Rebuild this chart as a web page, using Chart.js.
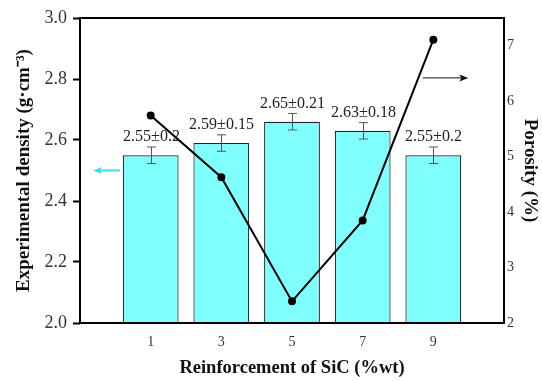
<!DOCTYPE html>
<html>
<head>
<meta charset="utf-8">
<script src="https://cdn.jsdelivr.net/npm/chart.js@4"></script>
<style>
  html, body { margin: 0; padding: 0; background: #fff; }
  #wrap { width: 542px; height: 381px; }
</style>
</head>
<body>
<div id="wrap"><canvas id="densityChart" width="542" height="381"></canvas></div>
<script>
// Data
const sicContent = [1, 3, 5, 7, 9];
const density = [2.55, 2.59, 2.66, 2.63, 2.55];
const densityErr = [0.027, 0.027, 0.027, 0.027, 0.027];
const densityLabels = ['2.55\u00b10.2', '2.59\u00b10.15', '2.65\u00b10.21', '2.63\u00b10.18', '2.55\u00b10.2'];
const porosity = [5.74, 4.63, 2.39, 3.85, 7.11];
const densityTicks = [2.0, 2.2, 2.4, 2.6, 2.8, 3.0];
const porosityTicks = [2, 3, 4, 5, 6, 7];

const SERIF = "'Liberation Serif', 'Times New Roman', serif";

// arrows pointing at each axis, in data units
const arrows = [
  { from: 0.13, to: -0.63, y: 2.5, axis: 'y', color: '#3fdcea', width: 2 },
  { from: 8.7, to: 9.99, y: 6.42, axis: 'y1', color: '#111', width: 1 }
];

const extras = {
  id: 'extras',
  afterDatasetsDraw(chart) {
    const ctx = chart.ctx;
    const xs = chart.scales.x, ys = chart.scales.y;
    ctx.save();

    // error bars + value labels
    ctx.strokeStyle = '#555';
    ctx.lineWidth = 1;
    ctx.fillStyle = '#222';
    ctx.font = '16px ' + SERIF;
    ctx.textAlign = 'center';
    ctx.textBaseline = 'bottom';
    sicContent.forEach((x, i) => {
      const px = Math.round(xs.getPixelForValue(x)) + 0.5;
      const top = ys.getPixelForValue(density[i] + densityErr[i]);
      const bot = ys.getPixelForValue(density[i] - densityErr[i]);
      ctx.beginPath();
      ctx.moveTo(px, top); ctx.lineTo(px, bot);
      ctx.moveTo(px - 4.5, top); ctx.lineTo(px + 4.5, top);
      ctx.moveTo(px - 4.5, bot); ctx.lineTo(px + 4.5, bot);
      ctx.stroke();
      ctx.fillText(densityLabels[i], px, top - 2);
    });

    // arrows
    arrows.forEach(a => {
      const sc = chart.scales[a.axis];
      const y = sc.getPixelForValue(a.y);
      const x0 = xs.getPixelForValue(a.from), x1 = xs.getPixelForValue(a.to);
      const dir = Math.sign(x1 - x0);
      ctx.strokeStyle = a.color;
      ctx.fillStyle = a.color;
      ctx.lineWidth = a.width;
      ctx.beginPath();
      ctx.moveTo(x0, y); ctx.lineTo(x1 - dir * 6, y);
      ctx.stroke();
      ctx.beginPath();
      ctx.moveTo(x1, y);
      ctx.lineTo(x1 - dir * 9, y - 3.5);
      ctx.lineTo(x1 - dir * 7, y);
      ctx.lineTo(x1 - dir * 9, y + 3.5);
      ctx.closePath();
      ctx.fill();
    });

    // plot frame
    const area = chart.chartArea;
    ctx.strokeStyle = '#000';
    ctx.lineWidth = 2;
    ctx.strokeRect(area.left, area.top, area.right - area.left, area.bottom - area.top);
    ctx.restore();
  }
};

new Chart(document.getElementById('densityChart'), {
  type: 'bar',
  data: {
    datasets: [
      {
        type: 'line',
        label: 'Porosity',
        data: sicContent.map((x, i) => ({ x: x, y: porosity[i] })),
        yAxisID: 'y1',
        borderColor: '#000',
        borderWidth: 2,
        backgroundColor: '#000',
        pointRadius: 3,
        pointBackgroundColor: '#000',
        tension: 0,
        order: 0
      },
      {
        type: 'bar',
        label: 'Density',
        data: sicContent.map((x, i) => ({ x: x, y: density[i] })),
        yAxisID: 'y',
        backgroundColor: '#80ffff',
        borderColor: '#222',
        borderWidth: 1.2,
        barPercentage: 0.79,
        categoryPercentage: 1,
        order: 1
      }
    ]
  },
  options: {
    responsive: false,
    animation: false,
    layout: { padding: { top: 18, left: 0, right: 0, bottom: 0 } },
    plugins: {
      legend: { display: false },
      tooltip: { enabled: false }
    },
    scales: {
      x: {
        type: 'linear',
        offset: false,
        min: -1,
        max: 11,
        afterBuildTicks: s => { s.ticks = sicContent.map(v => ({ value: v })); },
        afterFit: s => { s.height = 58; },
        grid: { display: false, drawTicks: false, offset: false },
        border: { display: false },
        ticks: { color: '#333', font: { family: SERIF, size: 14 }, padding: 11 },
        title: {
          display: true,
          text: 'Reinforcement of SiC (%wt)',
          color: '#111',
          font: { family: SERIF, size: 18.5, weight: 'bold' },
          padding: { top: 0, bottom: 2 }
        }
      },
      y: {
        position: 'left',
        min: 2,
        max: 3,
        afterBuildTicks: s => { s.ticks = densityTicks.map(v => ({ value: v })); },
        afterFit: s => { s.width = 80; },
        grid: { drawOnChartArea: false, tickLength: 7, tickColor: '#000', tickWidth: 2 },
        border: { display: false },
        ticks: {
          color: '#333',
          font: { family: SERIF, size: 18 },
          padding: 6,
          callback: v => Number(v).toFixed(1)
        },
        title: {
          display: true,
          text: 'Experimental density (g\u00b7cm\u207b\u00b3)',
          color: '#111',
          font: { family: SERIF, size: 19, weight: 'bold' },
          padding: { top: 13, bottom: 0 }
        }
      },
      y1: {
        position: 'right',
        min: 2,
        max: 7.5,
        afterBuildTicks: s => { s.ticks = porosityTicks.map(v => ({ value: v })); },
        afterFit: s => { s.width = 38; },
        grid: { drawOnChartArea: false, drawTicks: false },
        border: { display: false },
        ticks: { color: '#333', font: { family: SERIF, size: 14 }, padding: 3 },
        title: {
          display: true,
          text: 'Porosity (%)',
          color: '#111',
          font: { family: SERIF, size: 19, weight: 'bold' },
          padding: { top: 1, bottom: 0 }
        }
      }
    }
  },
  plugins: [extras]
});
</script>
</body>
</html>
